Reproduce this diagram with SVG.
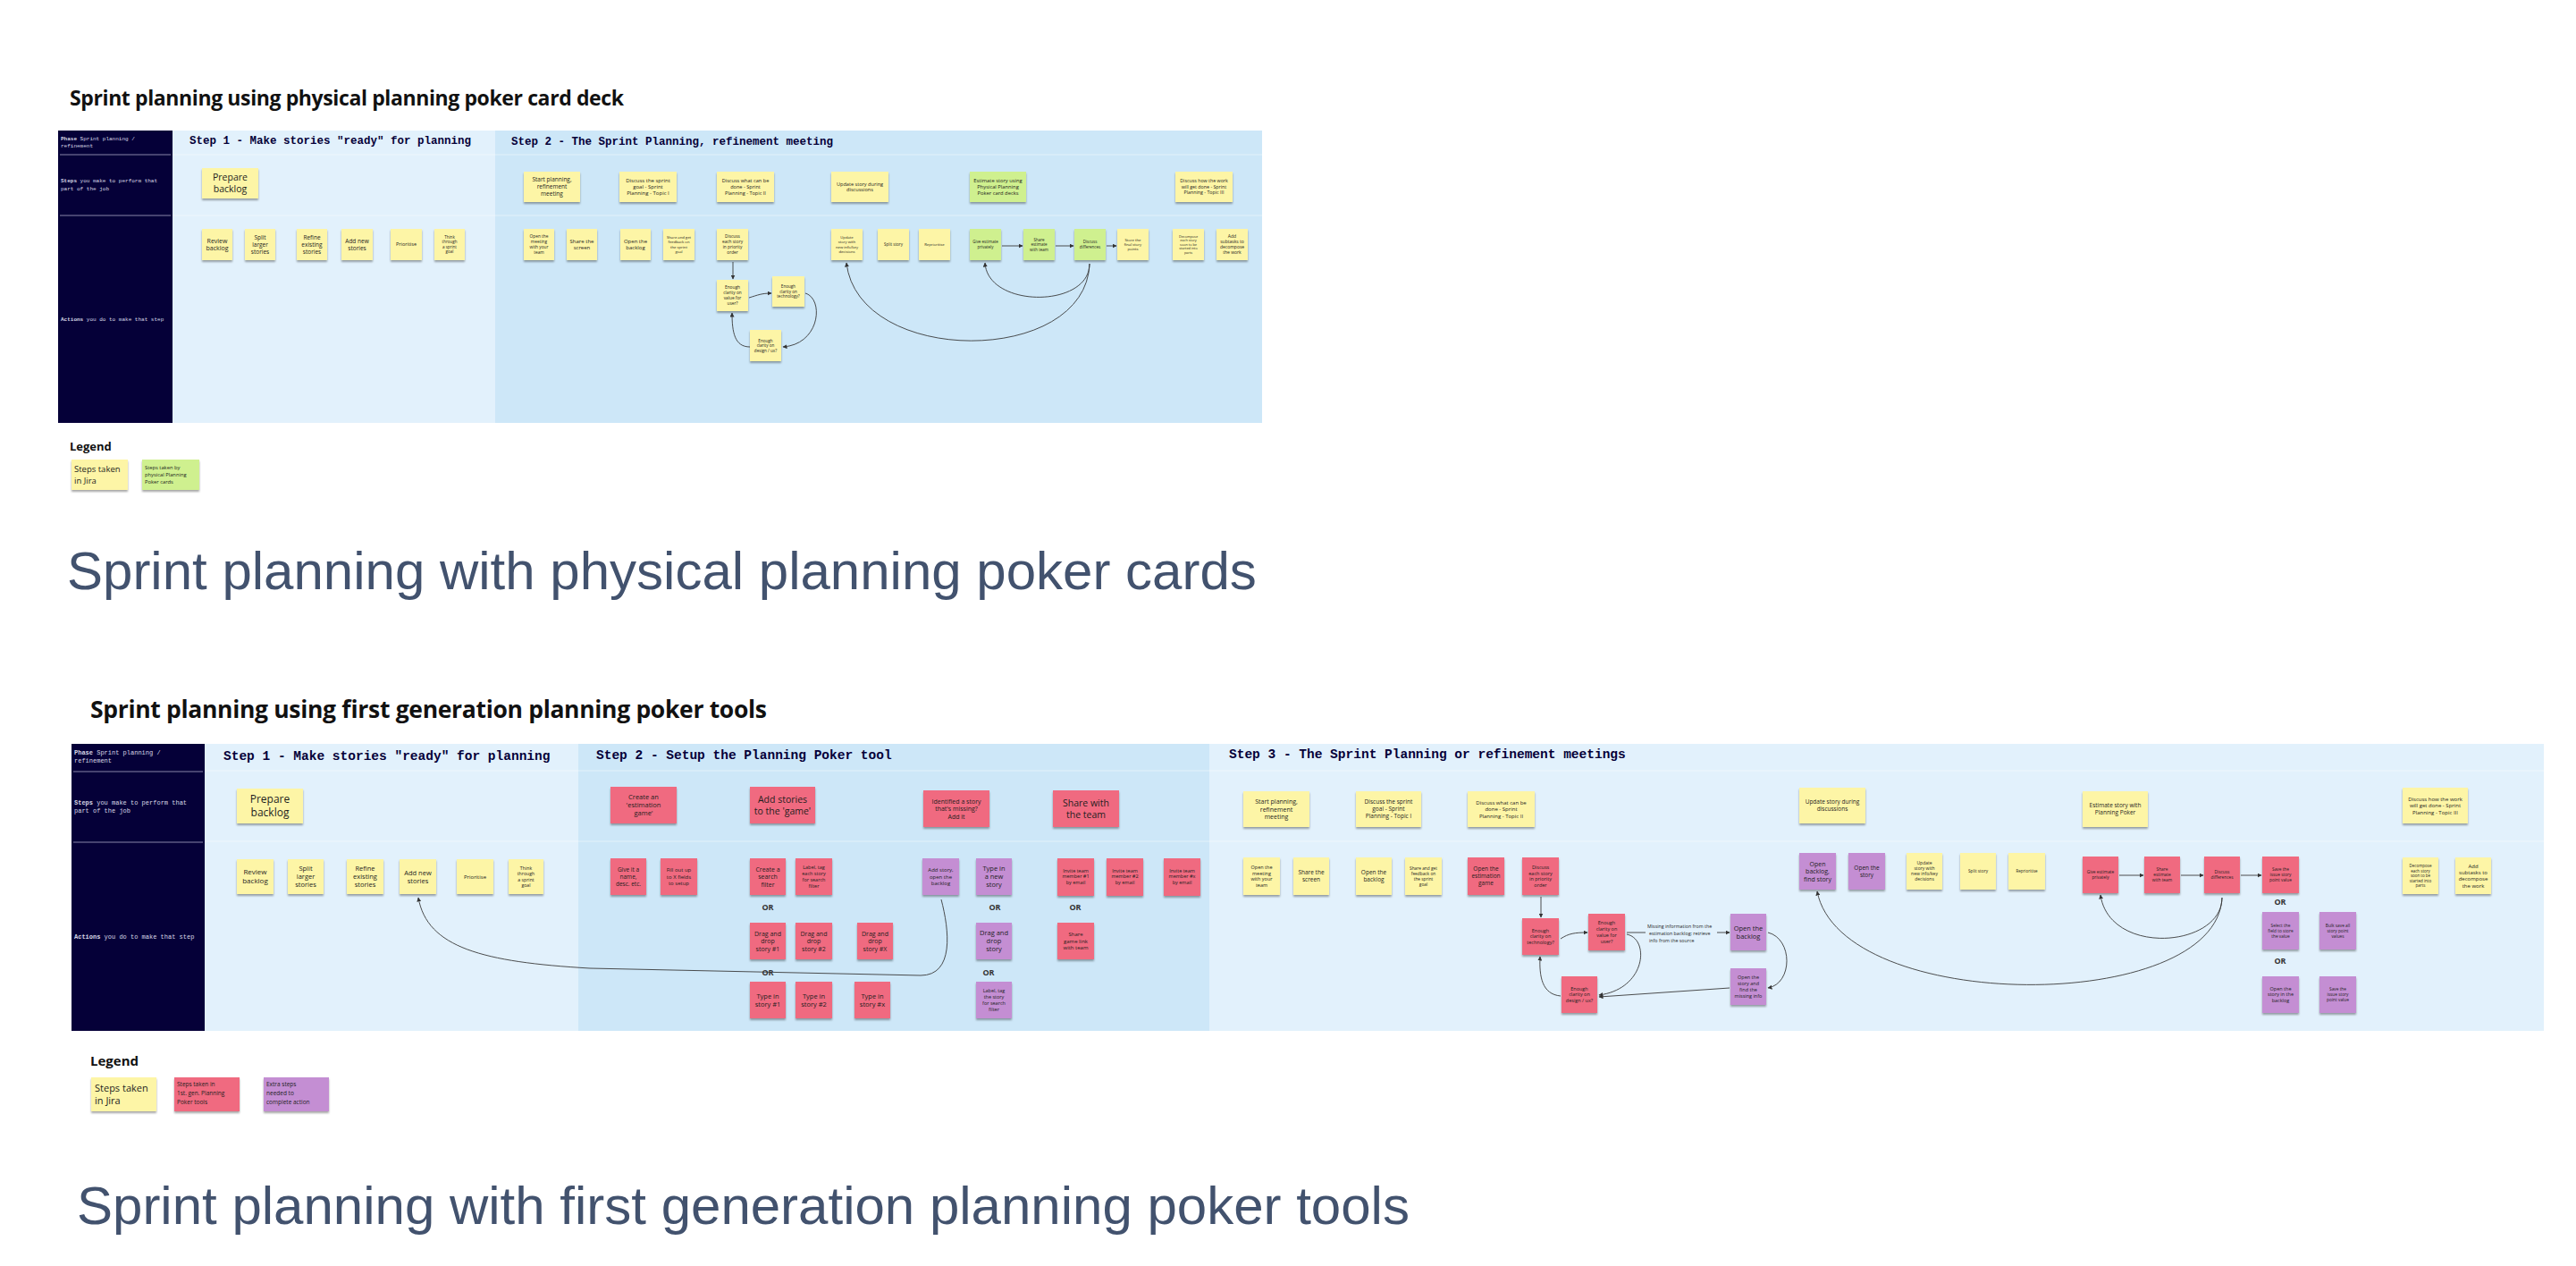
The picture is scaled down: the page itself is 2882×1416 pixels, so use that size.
<svg xmlns="http://www.w3.org/2000/svg" width="2882" height="1416" viewBox="0 0 2882 1416">
<defs>
<filter id="sh" x="-10%" y="-10%" width="120%" height="140%"><feDropShadow dx="0" dy="2" stdDeviation="1.2" flood-color="#000" flood-opacity="0.35"/></filter>
<marker id="ah" viewBox="0 0 10 10" refX="9" refY="5" markerWidth="5" markerHeight="5" markerUnits="userSpaceOnUse" orient="auto"><path d="M0,0 L10,5 L0,10 z" fill="#333"/></marker>
</defs>
<style>
.y{fill:#FDF5A6}.g{fill:#CFF08F}.r{fill:#F06A80}.p{fill:#C48ED3}
.n rect{filter:url(#sh)}
.t{font-family:"Open Sans","Noto Sans","Liberation Sans",sans-serif;fill:#1e1e1e;text-anchor:middle}
.tl{font-family:"Open Sans","Noto Sans","Liberation Sans",sans-serif;fill:#1e1e1e}
.h{font-family:"Open Sans","Noto Sans","Liberation Sans",sans-serif;font-weight:700;fill:#111}
.cap{font-family:"Liberation Sans","Noto Sans",Arial,sans-serif;fill:#42526E}
.mono{font-family:"Liberation Mono","DejaVu Sans Mono",monospace;font-weight:700;fill:#050038}
.dk{font-family:"Liberation Mono","DejaVu Sans Mono",monospace;fill:#d8d8e6}
.or{font-family:"Open Sans","Noto Sans",sans-serif;font-weight:700;fill:#333;text-anchor:middle;font-size:9px}
.c{fill:none;stroke:#3a3a3a;stroke-width:0.9}
.ca{fill:none;stroke:#3a3a3a;stroke-width:0.9;marker-end:url(#ah)}
.sep{stroke:#ffffff;stroke-opacity:0.45;stroke-width:1}
.dsep{stroke:#8886a8;stroke-width:1.2}
</style>
<rect width="2882" height="1416" fill="#ffffff"/>

<!-- ================= TOP DIAGRAM ================= -->
<g id="a-title"><text class="h" x="78" y="118" font-size="23" textLength="620">Sprint planning using physical planning poker card deck</text></g>
<g id="a-panels">
<rect x="65" y="146" width="128" height="327" fill="#050038"/>
<rect x="193" y="146" width="361" height="327" fill="#E2F1FC"/>
<rect x="554" y="146" width="858" height="327" fill="#CDE7F8"/>
<line class="dsep" x1="67" y1="173" x2="191" y2="173"/>
<line class="dsep" x1="67" y1="241" x2="191" y2="241"/>
<line class="sep" x1="193" y1="173" x2="1412" y2="173"/>
<line class="sep" x1="193" y1="241" x2="1412" y2="241"/>
<text class="dk" font-size="6"><tspan x="68" y="157"><tspan font-weight="700">Phase</tspan> Sprint planning /</tspan><tspan x="68" y="165">refinement</tspan></text>
<text class="dk" font-size="6"><tspan x="68" y="204"><tspan font-weight="700">Steps</tspan> you make to perform that</tspan><tspan x="68" y="213">part of the job</tspan></text>
<text class="dk" font-size="6" x="68" y="359"><tspan font-weight="700">Actions</tspan> you do to make that step</text>
<text class="mono" x="212" y="161" font-size="12.5">Step 1 - Make stories "ready" for planning</text>
<text class="mono" x="572" y="162" font-size="12.5">Step 2 - The Sprint Planning, refinement meeting</text>
</g>

<g id="a-connectors">
<path class="ca" d="M820 293 L820 312"/>
<path class="ca" d="M838 333 C848 330 852 328 863 328"/>
<path class="ca" d="M901 328 C922 334 918 385 876 388"/>
<path class="ca" d="M839 388 C822 388 819 372 819 350"/>
<path class="ca" d="M1121 275 L1144 275"/>
<path class="ca" d="M1181 275 L1201 275"/>
<path class="ca" d="M1238 275 L1249 275"/>
<path class="ca" d="M1219 295 C1219 345 1105 345 1102 294"/>
<path class="ca" d="M1219 295 C1215 410 960 410 947 294"/>
</g>

<g class="n">
<g id="a-prepare"><rect class="y" x="226" y="188" width="63" height="34"/><text class="t" font-size="10.5"><tspan x="257.5" y="202.3">Prepare</tspan><tspan x="257.5" y="215.1">backlog</tspan></text></g>
<g id="a-start"><rect class="y" x="586" y="192" width="63" height="34"/><text class="t" font-size="6.5"><tspan x="617.5" y="203.4">Start planning,</tspan><tspan x="617.5" y="211.3">refinement</tspan><tspan x="617.5" y="219.2">meeting</tspan></text></g>
<g id="a-goal"><rect class="y" x="693" y="192" width="64" height="34"/><text class="t" font-size="6"><tspan x="725" y="203.8">Discuss the sprint</tspan><tspan x="725" y="211.1">goal - Sprint</tspan><tspan x="725" y="218.4">Planning - Topic I</tspan></text></g>
<g id="a-what"><rect class="y" x="802" y="192" width="64" height="34"/><text class="t" font-size="5.6"><tspan x="834" y="204.2">Discuss what can be</tspan><tspan x="834" y="211">done - Sprint</tspan><tspan x="834" y="217.8">Planning - Topic II</tspan></text></g>
<g id="a-update"><rect class="y" x="930" y="192" width="64" height="34"/><text class="t" font-size="5.6"><tspan x="962" y="207.6">Update story during</tspan><tspan x="962" y="214.4">discussions</tspan></text></g>
<g id="a-estimate"><rect class="g" x="1085" y="192" width="63" height="34"/><text class="t" font-size="5.8"><tspan x="1116.5" y="203.9">Estimate story using</tspan><tspan x="1116.5" y="211">Physical Planning</tspan><tspan x="1116.5" y="218.1">Poker card decks</tspan></text></g>
<g id="a-how"><rect class="y" x="1315" y="192" width="64" height="34"/><text class="t" font-size="5.3"><tspan x="1347" y="204.4">Discuss how the work</tspan><tspan x="1347" y="210.9">will get done - Sprint</tspan><tspan x="1347" y="217.4">Planning - Topic III</tspan></text></g>

<g id="a-review"><rect class="y" x="226" y="256" width="34" height="35"/><text class="t" font-size="7"><tspan x="243" y="271.7">Review</tspan><tspan x="243" y="280.2">backlog</tspan></text></g>
<g id="a-split"><rect class="y" x="274" y="256" width="34" height="35"/><text class="t" font-size="6.5"><tspan x="291" y="267.9">Split</tspan><tspan x="291" y="275.8">larger</tspan><tspan x="291" y="283.7">stories</tspan></text></g>
<g id="a-refine"><rect class="y" x="332" y="256" width="34" height="35"/><text class="t" font-size="6.5"><tspan x="349" y="267.9">Refine</tspan><tspan x="349" y="275.8">existing</tspan><tspan x="349" y="283.7">stories</tspan></text></g>
<g id="a-addnew"><rect class="y" x="382" y="256" width="35" height="35"/><text class="t" font-size="6.5"><tspan x="399.5" y="271.8">Add new</tspan><tspan x="399.5" y="279.7">stories</tspan></text></g>
<g id="a-prio"><rect class="y" x="437" y="256" width="35" height="35"/><text class="t" font-size="5.5" x="454.5" y="275.4">Prioritise</text></g>
<g id="a-think"><rect class="y" x="486" y="256" width="34" height="35"/><text class="t" font-size="4.5"><tspan x="503" y="266.8">Think</tspan><tspan x="503" y="272.3">through</tspan><tspan x="503" y="277.8">a sprint</tspan><tspan x="503" y="283.3">goal</tspan></text></g>

<g id="a-openmeet"><rect class="y" x="586" y="256" width="34" height="35"/><text class="t" font-size="4.8"><tspan x="603" y="266.3">Open the</tspan><tspan x="603" y="272.2">meeting</tspan><tspan x="603" y="278.1">with your</tspan><tspan x="603" y="284">team</tspan></text></g>
<g id="a-share"><rect class="y" x="634" y="256" width="34" height="35"/><text class="t" font-size="6"><tspan x="651" y="271.9">Share the</tspan><tspan x="651" y="279.2">screen</tspan></text></g>
<g id="a-openbl"><rect class="y" x="694" y="256" width="34" height="35"/><text class="t" font-size="6"><tspan x="711" y="271.9">Open the</tspan><tspan x="711" y="279.2">backlog</tspan></text></g>
<g id="a-feedback"><rect class="y" x="742" y="256" width="35" height="35"/><text class="t" font-size="4.2"><tspan x="759.5" y="267.3">Share and get</tspan><tspan x="759.5" y="272.4">feedback on</tspan><tspan x="759.5" y="277.5">the sprint</tspan><tspan x="759.5" y="282.6">goal</tspan></text></g>
<g id="a-each"><rect class="y" x="802" y="256" width="35" height="35"/><text class="t" font-size="4.8"><tspan x="819.5" y="266.3">Discuss</tspan><tspan x="819.5" y="272.2">each story</tspan><tspan x="819.5" y="278.1">in priority</tspan><tspan x="819.5" y="284">order</tspan></text></g>
<g id="a-value"><rect class="y" x="802" y="313" width="35" height="35"/><text class="t" font-size="4.8"><tspan x="819.5" y="323.3">Enough</tspan><tspan x="819.5" y="329.2">clarity on</tspan><tspan x="819.5" y="335.1">value for</tspan><tspan x="819.5" y="341">user?</tspan></text></g>
<g id="a-tech"><rect class="y" x="864" y="309" width="36" height="34"/><text class="t" font-size="4.6"><tspan x="882" y="322">Enough</tspan><tspan x="882" y="327.6">clarity on</tspan><tspan x="882" y="333.2">technology?</tspan></text></g>
<g id="a-design"><rect class="y" x="839" y="369" width="35" height="35"/><text class="t" font-size="4.6"><tspan x="856.5" y="382.5">Enough</tspan><tspan x="856.5" y="388.1">clarity on</tspan><tspan x="856.5" y="393.7">design / ux?</tspan></text></g>
<g id="a-updkey"><rect class="y" x="930" y="256" width="35" height="35"/><text class="t" font-size="4.2"><tspan x="947.5" y="267.3">Update</tspan><tspan x="947.5" y="272.4">story with</tspan><tspan x="947.5" y="277.5">new info/key</tspan><tspan x="947.5" y="282.6">decisions</tspan></text></g>
<g id="a-splitst"><rect class="y" x="982" y="256" width="35" height="35"/><text class="t" font-size="4.5" x="999.5" y="275.1">Split story</text></g>
<g id="a-reprio"><rect class="y" x="1028" y="256" width="35" height="35"/><text class="t" font-size="4.2" x="1045.5" y="275">Reprioritise</text></g>
<g id="a-give"><rect class="g" x="1085" y="256" width="35" height="35"/><text class="t" font-size="4.5"><tspan x="1102.5" y="272.3">Give estimate</tspan><tspan x="1102.5" y="277.8">privately</tspan></text></g>
<g id="a-shareest"><rect class="g" x="1145" y="256" width="35" height="35"/><text class="t" font-size="4.5"><tspan x="1162.5" y="269.6">Share</tspan><tspan x="1162.5" y="275.1">estimate</tspan><tspan x="1162.5" y="280.6">with team</tspan></text></g>
<g id="a-diff"><rect class="g" x="1202" y="256" width="35" height="35"/><text class="t" font-size="4.5"><tspan x="1219.5" y="272.3">Discuss</tspan><tspan x="1219.5" y="277.8">differences</tspan></text></g>
<g id="a-store"><rect class="y" x="1250" y="256" width="35" height="35"/><text class="t" font-size="4.2"><tspan x="1267.5" y="269.9">Store the</tspan><tspan x="1267.5" y="275">final story</tspan><tspan x="1267.5" y="280.1">points</tspan></text></g>
<g id="a-decomp"><rect class="y" x="1312" y="256" width="35" height="35"/><text class="t" font-size="3.8"><tspan x="1329.5" y="265.6">Decompose</tspan><tspan x="1329.5" y="270.2">each story</tspan><tspan x="1329.5" y="274.8">soon to be</tspan><tspan x="1329.5" y="279.4">started into</tspan><tspan x="1329.5" y="284">parts</tspan></text></g>
<g id="a-subtasks"><rect class="y" x="1361" y="256" width="35" height="35"/><text class="t" font-size="5"><tspan x="1378.5" y="266.1">Add</tspan><tspan x="1378.5" y="272.2">subtasks to</tspan><tspan x="1378.5" y="278.3">decompose</tspan><tspan x="1378.5" y="284.4">the work</tspan></text></g>
</g>

<g id="a-legend">
<text class="h" x="78" y="504" font-size="13">Legend</text>
<g class="n">
<rect class="y" x="80" y="514" width="63" height="34"/>
<rect class="g" x="159" y="514" width="64" height="34"/>
</g>
<text class="tl" font-size="9.5"><tspan x="83" y="527.5">Steps taken</tspan><tspan x="83" y="541">in Jira</tspan></text>
<text class="tl" font-size="5.8"><tspan x="162" y="524.5">Steps taken by</tspan><tspan x="162" y="532.7">physical Planning</tspan><tspan x="162" y="540.9">Poker cards</tspan></text>
</g>

<g id="a-caption"><text class="cap" x="75" y="659" font-size="60">Sprint planning with physical planning poker cards</text></g>

<!-- ================= BOTTOM DIAGRAM ================= -->
<g id="b-title"><text class="h" x="101" y="803" font-size="26.5" textLength="757">Sprint planning using first generation planning poker tools</text></g>
<g id="b-panels">
<rect x="80" y="832" width="149" height="321" fill="#050038"/>
<rect x="229" y="832" width="418" height="321" fill="#E2F1FC"/>
<rect x="647" y="832" width="706" height="321" fill="#CDE7F8"/>
<rect x="1353" y="832" width="1493" height="321" fill="#E2F1FC"/>
<line class="dsep" x1="82" y1="863" x2="227" y2="863"/>
<line class="dsep" x1="82" y1="942" x2="227" y2="942"/>
<line class="sep" x1="229" y1="862" x2="2846" y2="862"/>
<line class="sep" x1="229" y1="941" x2="2846" y2="941"/>
<text class="dk" font-size="7"><tspan x="83" y="844"><tspan font-weight="700">Phase</tspan> Sprint planning /</tspan><tspan x="83" y="853">refinement</tspan></text>
<text class="dk" font-size="7"><tspan x="83" y="900"><tspan font-weight="700">Steps</tspan> you make to perform that</tspan><tspan x="83" y="909">part of the job</tspan></text>
<text class="dk" font-size="7" x="83" y="1050"><tspan font-weight="700">Actions</tspan> you do to make that step</text>
<text class="mono" x="250" y="850" font-size="14.5">Step 1 - Make stories "ready" for planning</text>
<text class="mono" x="667" y="849" font-size="14.5">Step 2 - Setup the Planning Poker tool</text>
<text class="mono" x="1375" y="848" font-size="14.5">Step 3 - The Sprint Planning or refinement meetings</text>
</g>

<g id="b-connectors">
<path class="ca" d="M1053 1006 C1062 1040 1068 1091 1030 1091 L660 1083 C540 1076 478 1060 468 1004"/>
<path class="ca" d="M1724 1003 L1724 1026"/>
<path class="ca" d="M1746 1050 C1755 1044 1762 1043 1776 1043"/>
<path class="ca" d="M1820 1045 C1846 1050 1842 1106 1789 1113"/>
<path class="ca" d="M1746 1114 C1725 1112 1722 1092 1723 1070"/>
<path class="c" d="M1820 1043 L1841 1043"/>
<path class="ca" d="M1921 1043 L1935 1043"/>
<path class="ca" d="M1978 1043 C2006 1050 2006 1100 1978 1105"/>
<path class="ca" d="M1935 1105 L1789 1115"/>
<path class="ca" d="M2371 979 L2398 979"/>
<path class="ca" d="M2440 979 L2465 979"/>
<path class="ca" d="M2507 979 L2530 979"/>
<path class="ca" d="M2486 1004 C2486 1060 2360 1070 2350 1001"/>
<path class="ca" d="M2486 1004 C2480 1135 2060 1135 2033 997"/>
</g>
<g id="b-missing-label"><text class="tl" font-size="5.3" fill="#333"><tspan x="1843" y="1038">Missing information from the</tspan><tspan x="1845" y="1045.5">estimation backlog; retrieve</tspan><tspan x="1845" y="1053.5">info from the source</tspan></text></g>

<g class="n">
<!-- step 1 -->
<g id="b-prepare"><rect class="y" x="265" y="882" width="74" height="39"/><text class="t" font-size="12"><tspan x="302" y="898.4">Prepare</tspan><tspan x="302" y="913">backlog</tspan></text></g>
<g id="b-review"><rect class="y" x="265" y="961" width="41" height="39"/><text class="t" font-size="8"><tspan x="285.5" y="978.4">Review</tspan><tspan x="285.5" y="988.2">backlog</tspan></text></g>
<g id="b-split"><rect class="y" x="322" y="961" width="40" height="39"/><text class="t" font-size="7.5"><tspan x="342" y="973.9">Split</tspan><tspan x="342" y="983.1">larger</tspan><tspan x="342" y="992.3">stories</tspan></text></g>
<g id="b-refine"><rect class="y" x="388" y="961" width="41" height="39"/><text class="t" font-size="7.5"><tspan x="408.5" y="973.9">Refine</tspan><tspan x="408.5" y="983.1">existing</tspan><tspan x="408.5" y="992.3">stories</tspan></text></g>
<g id="b-addnew"><rect class="y" x="447" y="961" width="41" height="39"/><text class="t" font-size="7.5"><tspan x="467.5" y="978.5">Add new</tspan><tspan x="467.5" y="987.7">stories</tspan></text></g>
<g id="b-prio"><rect class="y" x="511" y="961" width="41" height="39"/><text class="t" font-size="6" x="531.5" y="982.6">Prioritise</text></g>
<g id="b-think"><rect class="y" x="569" y="961" width="39" height="39"/><text class="t" font-size="5.2"><tspan x="588.5" y="972.9">Think</tspan><tspan x="588.5" y="979.2">through</tspan><tspan x="588.5" y="985.5">a sprint</tspan><tspan x="588.5" y="991.8">goal</tspan></text></g>

<!-- step 2 -->
<g id="b-create"><rect class="r" x="683" y="880" width="74" height="41"/><text class="t" font-size="7.5"><tspan x="720" y="893.9">Create an</tspan><tspan x="720" y="903.1">'estimation</tspan><tspan x="720" y="912.3">game'</tspan></text></g>
<g id="b-addgame"><rect class="r" x="839" y="880" width="73" height="41"/><text class="t" font-size="10.5"><tspan x="875.5" y="897.8">Add stories</tspan><tspan x="875.5" y="910.6">to the 'game'</tspan></text></g>
<g id="b-identified"><rect class="r" x="1033" y="884" width="74" height="41"/><text class="t" font-size="7"><tspan x="1070" y="898.5">Identified a story</tspan><tspan x="1070" y="907">that's missing?</tspan><tspan x="1070" y="915.5">Add it</tspan></text></g>
<g id="b-shareteam"><rect class="r" x="1178" y="884" width="74" height="41"/><text class="t" font-size="10.5"><tspan x="1215" y="901.8">Share  with</tspan><tspan x="1215" y="914.6">the team</tspan></text></g>

<g id="b-name"><rect class="r" x="683" y="960" width="40" height="41"/><text class="t" font-size="6.5"><tspan x="703" y="974.8">Give it a</tspan><tspan x="703" y="982.8">name,</tspan><tspan x="703" y="990.8">desc. etc.</tspan></text></g>
<g id="b-fields"><rect class="r" x="739" y="960" width="41" height="41"/><text class="t" font-size="6"><tspan x="759.5" y="975.3">Fill out up</tspan><tspan x="759.5" y="982.6">to X fields</tspan><tspan x="759.5" y="989.9">to setup</tspan></text></g>
<g id="b-filter"><rect class="r" x="839" y="960" width="40" height="41"/><text class="t" font-size="7"><tspan x="859" y="974.5">Create a</tspan><tspan x="859" y="983">search</tspan><tspan x="859" y="991.5">filter</tspan></text></g>
<g id="b-label"><rect class="r" x="890" y="960" width="41" height="41"/><text class="t" font-size="5.5"><tspan x="910.5" y="972.4">Label, tag</tspan><tspan x="910.5" y="979.1">each story</tspan><tspan x="910.5" y="985.8">for search</tspan><tspan x="910.5" y="992.5">filter</tspan></text></g>
<g id="b-drag1"><rect class="r" x="839" y="1032" width="40" height="41"/><text class="t" font-size="7"><tspan x="859" y="1046.5">Drag and</tspan><tspan x="859" y="1055">drop</tspan><tspan x="859" y="1063.5">story #1</tspan></text></g>
<g id="b-drag2"><rect class="r" x="890" y="1032" width="41" height="41"/><text class="t" font-size="7"><tspan x="910.5" y="1046.5">Drag and</tspan><tspan x="910.5" y="1055">drop</tspan><tspan x="910.5" y="1063.5">story #2</tspan></text></g>
<g id="b-dragx"><rect class="r" x="959" y="1032" width="40" height="41"/><text class="t" font-size="7"><tspan x="979" y="1046.5">Drag and</tspan><tspan x="979" y="1055">drop</tspan><tspan x="979" y="1063.5">story #X</tspan></text></g>
<g id="b-type1"><rect class="r" x="839" y="1098" width="40" height="41"/><text class="t" font-size="7.5"><tspan x="859" y="1116.5">Type in</tspan><tspan x="859" y="1125.7">story #1</tspan></text></g>
<g id="b-type2"><rect class="r" x="890" y="1098" width="41" height="41"/><text class="t" font-size="7.5"><tspan x="910.5" y="1116.5">Type in</tspan><tspan x="910.5" y="1125.7">story #2</tspan></text></g>
<g id="b-typex"><rect class="r" x="956" y="1098" width="40" height="41"/><text class="t" font-size="7.5"><tspan x="976" y="1116.5">Type in</tspan><tspan x="976" y="1125.7">story #x</tspan></text></g>
<g id="b-addstory"><rect class="p" x="1032" y="960" width="41" height="41"/><text class="t" font-size="6"><tspan x="1052.5" y="975.3">Add story,</tspan><tspan x="1052.5" y="982.6">open the</tspan><tspan x="1052.5" y="989.9">backlog</tspan></text></g>
<g id="b-typenew"><rect class="p" x="1092" y="960" width="40" height="41"/><text class="t" font-size="7.5"><tspan x="1112" y="973.9">Type in</tspan><tspan x="1112" y="983.1">a new</tspan><tspan x="1112" y="992.3">story</tspan></text></g>
<g id="b-dragstory"><rect class="p" x="1092" y="1032" width="40" height="41"/><text class="t" font-size="7.5"><tspan x="1112" y="1045.9">Drag and</tspan><tspan x="1112" y="1055.1">drop</tspan><tspan x="1112" y="1064.3">story</tspan></text></g>
<g id="b-labelstory"><rect class="p" x="1092" y="1098" width="40" height="41"/><text class="t" font-size="5.5"><tspan x="1112" y="1110.4">Label, tag</tspan><tspan x="1112" y="1117.1">the story</tspan><tspan x="1112" y="1123.8">for search</tspan><tspan x="1112" y="1130.5">filter</tspan></text></g>
<g id="b-invite1"><rect class="r" x="1183" y="960" width="41" height="42"/><text class="t" font-size="5.5"><tspan x="1203.5" y="975.7">Invite team</tspan><tspan x="1203.5" y="982.4">member #1</tspan><tspan x="1203.5" y="989.1">by email</tspan></text></g>
<g id="b-invite2"><rect class="r" x="1238" y="960" width="41" height="42"/><text class="t" font-size="5.5"><tspan x="1258.5" y="975.7">Invite team</tspan><tspan x="1258.5" y="982.4">member #2</tspan><tspan x="1258.5" y="989.1">by email</tspan></text></g>
<g id="b-invitex"><rect class="r" x="1302" y="960" width="41" height="42"/><text class="t" font-size="5.5"><tspan x="1322.5" y="975.7">Invite team</tspan><tspan x="1322.5" y="982.4">member #x</tspan><tspan x="1322.5" y="989.1">by email</tspan></text></g>
<g id="b-link"><rect class="r" x="1183" y="1032" width="41" height="41"/><text class="t" font-size="6"><tspan x="1203.5" y="1047.3">Share</tspan><tspan x="1203.5" y="1054.6">game link</tspan><tspan x="1203.5" y="1061.9">with team</tspan></text></g>

<!-- step 3 -->
<g id="b-start"><rect class="y" x="1391" y="885" width="74" height="40"/><text class="t" font-size="7"><tspan x="1428" y="899">Start planning,</tspan><tspan x="1428" y="907.5">refinement</tspan><tspan x="1428" y="916">meeting</tspan></text></g>
<g id="b-goal"><rect class="y" x="1517" y="885" width="73" height="40"/><text class="t" font-size="6.5"><tspan x="1553.5" y="899.3">Discuss the sprint</tspan><tspan x="1553.5" y="907.3">goal - Sprint</tspan><tspan x="1553.5" y="915.3">Planning - Topic I</tspan></text></g>
<g id="b-what"><rect class="y" x="1642" y="885" width="75" height="40"/><text class="t" font-size="6"><tspan x="1679.5" y="899.6">Discuss what can be</tspan><tspan x="1679.5" y="907.1">done - Sprint</tspan><tspan x="1679.5" y="914.6">Planning - Topic II</tspan></text></g>
<g id="b-update"><rect class="y" x="2013" y="881" width="74" height="40"/><text class="t" font-size="6.5"><tspan x="2050" y="899.3">Update story during</tspan><tspan x="2050" y="907.3">discussions</tspan></text></g>
<g id="b-estimate"><rect class="y" x="2330" y="885" width="73" height="40"/><text class="t" font-size="6.5"><tspan x="2366.5" y="903.3">Estimate story with</tspan><tspan x="2366.5" y="911.3">Planning Poker</tspan></text></g>
<g id="b-how"><rect class="y" x="2688" y="881" width="73" height="40"/><text class="t" font-size="6"><tspan x="2724.5" y="895.6">Discuss how the work</tspan><tspan x="2724.5" y="903.1">will get done - Sprint</tspan><tspan x="2724.5" y="910.6">Planning - Topic III</tspan></text></g>

<g id="b-openmeet"><rect class="y" x="1391" y="959" width="41" height="42"/><text class="t" font-size="5.5"><tspan x="1411.5" y="971.9">Open the</tspan><tspan x="1411.5" y="978.6">meeting</tspan><tspan x="1411.5" y="985.3">with your</tspan><tspan x="1411.5" y="992">team</tspan></text></g>
<g id="b-screen"><rect class="y" x="1447" y="959" width="40" height="42"/><text class="t" font-size="6.5"><tspan x="1467" y="978.3">Share the</tspan><tspan x="1467" y="986.3">screen</tspan></text></g>
<g id="b-openbl"><rect class="y" x="1517" y="959" width="40" height="42"/><text class="t" font-size="6.5"><tspan x="1537" y="978.3">Open the</tspan><tspan x="1537" y="986.3">backlog</tspan></text></g>
<g id="b-feedback"><rect class="y" x="1572" y="959" width="41" height="42"/><text class="t" font-size="4.8"><tspan x="1592.5" y="972.8">Share and get</tspan><tspan x="1592.5" y="978.7">feedback on</tspan><tspan x="1592.5" y="984.6">the sprint</tspan><tspan x="1592.5" y="990.5">goal</tspan></text></g>
<g id="b-opengame"><rect class="r" x="1642" y="959" width="41" height="42"/><text class="t" font-size="6.5"><tspan x="1662.5" y="974.3">Open the</tspan><tspan x="1662.5" y="982.3">estimation</tspan><tspan x="1662.5" y="990.3">game</tspan></text></g>
<g id="b-each"><rect class="r" x="1703" y="959" width="41" height="42"/><text class="t" font-size="5.5"><tspan x="1723.5" y="971.9">Discuss</tspan><tspan x="1723.5" y="978.6">each story</tspan><tspan x="1723.5" y="985.3">in priority</tspan><tspan x="1723.5" y="992">order</tspan></text></g>
<g id="b-tech"><rect class="r" x="1703" y="1027" width="41" height="41"/><text class="t" font-size="5.5"><tspan x="1723.5" y="1042.7">Enough</tspan><tspan x="1723.5" y="1049.4">clarity on</tspan><tspan x="1723.5" y="1056.1">technology?</tspan></text></g>
<g id="b-value"><rect class="r" x="1777" y="1022" width="41" height="41"/><text class="t" font-size="5.5"><tspan x="1797.5" y="1034.4">Enough</tspan><tspan x="1797.5" y="1041.1">clarity on</tspan><tspan x="1797.5" y="1047.8">value for</tspan><tspan x="1797.5" y="1054.5">user?</tspan></text></g>
<g id="b-design"><rect class="r" x="1747" y="1092" width="40" height="41"/><text class="t" font-size="5.5"><tspan x="1767" y="1107.7">Enough</tspan><tspan x="1767" y="1114.4">clarity on</tspan><tspan x="1767" y="1121.1">design / ux?</tspan></text></g>
<g id="b-openbl2"><rect class="p" x="1936" y="1022" width="40" height="41"/><text class="t" font-size="7.5"><tspan x="1956" y="1040.5">Open the</tspan><tspan x="1956" y="1049.7">backlog</tspan></text></g>
<g id="b-findinfo"><rect class="p" x="1936" y="1083" width="40" height="41"/><text class="t" font-size="5.5"><tspan x="1956" y="1095.4">Open the</tspan><tspan x="1956" y="1102.1">story and</tspan><tspan x="1956" y="1108.8">find the</tspan><tspan x="1956" y="1115.5">missing info</tspan></text></g>
<g id="b-findstory"><rect class="p" x="2013" y="954" width="41" height="41"/><text class="t" font-size="7"><tspan x="2033.5" y="968.5">Open</tspan><tspan x="2033.5" y="977">backlog,</tspan><tspan x="2033.5" y="985.5">find story</tspan></text></g>
<g id="b-openstory"><rect class="p" x="2068" y="954" width="41" height="41"/><text class="t" font-size="6.5"><tspan x="2088.5" y="972.8">Open the</tspan><tspan x="2088.5" y="980.8">story</tspan></text></g>
<g id="b-updkey"><rect class="y" x="2133" y="954" width="40" height="41"/><text class="t" font-size="5"><tspan x="2153" y="967.1">Update</tspan><tspan x="2153" y="973.2">story with</tspan><tspan x="2153" y="979.3">new info/key</tspan><tspan x="2153" y="985.4">decisions</tspan></text></g>
<g id="b-splitst"><rect class="y" x="2193" y="954" width="40" height="41"/><text class="t" font-size="4.8" x="2213" y="976.2">Split story</text></g>
<g id="b-reprio"><rect class="y" x="2247" y="954" width="41" height="41"/><text class="t" font-size="4.5" x="2267.5" y="976.1">Reprioritise</text></g>
<g id="b-give"><rect class="r" x="2330" y="958" width="40" height="41"/><text class="t" font-size="4.8"><tspan x="2350" y="977.2">Give estimate</tspan><tspan x="2350" y="983.1">privately</tspan></text></g>
<g id="b-shareest"><rect class="r" x="2399" y="958" width="40" height="41"/><text class="t" font-size="4.8"><tspan x="2419" y="974.3">Share</tspan><tspan x="2419" y="980.2">estimate</tspan><tspan x="2419" y="986.1">with team</tspan></text></g>
<g id="b-diff"><rect class="r" x="2466" y="958" width="40" height="41"/><text class="t" font-size="4.8"><tspan x="2486" y="977.2">Discuss</tspan><tspan x="2486" y="983.1">differences</tspan></text></g>
<g id="b-save"><rect class="r" x="2531" y="958" width="41" height="41"/><text class="t" font-size="4.8"><tspan x="2551.5" y="974.3">Save the</tspan><tspan x="2551.5" y="980.2">issue story</tspan><tspan x="2551.5" y="986.1">point value</tspan></text></g>
<g id="b-select"><rect class="p" x="2531" y="1020" width="41" height="42"/><text class="t" font-size="4.8"><tspan x="2551.5" y="1036.8">Select the</tspan><tspan x="2551.5" y="1042.7">field to store</tspan><tspan x="2551.5" y="1048.6">the value</tspan></text></g>
<g id="b-bulk"><rect class="p" x="2595" y="1020" width="41" height="42"/><text class="t" font-size="4.8"><tspan x="2615.5" y="1036.8">Bulk save all</tspan><tspan x="2615.5" y="1042.7">story point</tspan><tspan x="2615.5" y="1048.6">values</tspan></text></g>
<g id="b-openinbl"><rect class="p" x="2531" y="1092" width="41" height="41"/><text class="t" font-size="5.5"><tspan x="2551.5" y="1107.7">Open the</tspan><tspan x="2551.5" y="1114.4">story in the</tspan><tspan x="2551.5" y="1121.1">backlog</tspan></text></g>
<g id="b-save2"><rect class="p" x="2595" y="1092" width="41" height="41"/><text class="t" font-size="4.8"><tspan x="2615.5" y="1108.3">Save the</tspan><tspan x="2615.5" y="1114.2">issue story</tspan><tspan x="2615.5" y="1120.1">point value</tspan></text></g>
<g id="b-decomp"><rect class="y" x="2688" y="959" width="40" height="41"/><text class="t" font-size="4.5"><tspan x="2708" y="970.1">Decompose</tspan><tspan x="2708" y="975.6">each story</tspan><tspan x="2708" y="981.1">soon to be</tspan><tspan x="2708" y="986.6">started into</tspan><tspan x="2708" y="992.1">parts</tspan></text></g>
<g id="b-subtasks"><rect class="y" x="2747" y="959" width="40" height="41"/><text class="t" font-size="6"><tspan x="2767" y="970.7">Add</tspan><tspan x="2767" y="978">subtasks to</tspan><tspan x="2767" y="985.3">decompose</tspan><tspan x="2767" y="992.6">the work</tspan></text></g>
</g>

<g id="b-or-labels">
<text class="or" x="859" y="1018">OR</text>
<text class="or" x="859" y="1091">OR</text>
<text class="or" x="1113" y="1018">OR</text>
<text class="or" x="1106" y="1091">OR</text>
<text class="or" x="1203" y="1018">OR</text>
<text class="or" x="2551" y="1012">OR</text>
<text class="or" x="2551" y="1078">OR</text>
</g>

<g id="b-legend">
<text class="h" x="101" y="1192" font-size="15">Legend</text>
<g class="n">
<rect class="y" x="102" y="1205" width="73" height="38"/>
<rect class="r" x="195" y="1205" width="73" height="38"/>
<rect class="p" x="295" y="1205" width="73" height="38"/>
</g>
<text class="tl" font-size="11"><tspan x="106" y="1221">Steps taken</tspan><tspan x="106" y="1235">in Jira</tspan></text>
<text class="tl" font-size="6.5"><tspan x="198" y="1215">Steps taken in</tspan><tspan x="198" y="1225">1st. gen. Planning</tspan><tspan x="198" y="1235">Poker tools</tspan></text>
<text class="tl" font-size="6.5"><tspan x="298" y="1215">Extra steps</tspan><tspan x="298" y="1225">needed to</tspan><tspan x="298" y="1235">complete action</tspan></text>
</g>

<g id="b-caption"><text class="cap" x="86" y="1369" font-size="60">Sprint planning with first generation planning poker tools</text></g>
</svg>
